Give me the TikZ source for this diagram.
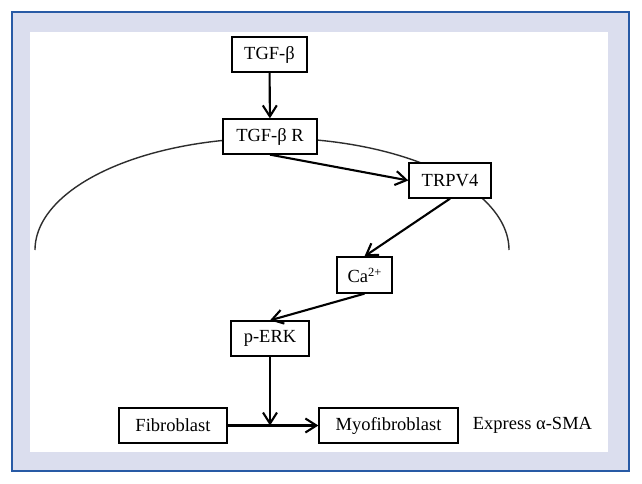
\documentclass[tikz,border=0pt]{standalone}
\usepackage{fontspec}
\setmainfont{Liberation Serif}
\usetikzlibrary{arrows.meta}
\definecolor{frameblue}{RGB}{40,90,165}
\definecolor{lav}{RGB}{219,222,238}
\definecolor{membr}{RGB}{45,45,45}
\begin{document}
\begin{tikzpicture}[x=1pt,y=-1pt,
  box/.style={draw=black,line width=1.3pt,fill=white,inner sep=0pt,
    minimum height=35pt,font=\fontsize{18.5}{20}\selectfont},
  lbl/.style={inner sep=0pt,font=\fontsize{18.5}{20}\selectfont},
  arr/.style={line width=2.1pt,-{Straight Barb[length=11pt,width=14pt,line width=2.1pt]}},
  membrane/.style={draw=membr,line width=1.4pt}]
\useasboundingbox (0,0) rectangle (642,484);
\fill[white] (0,0) rectangle (642,484);
\draw[frameblue,fill=lav,line width=1.8pt] (12,12) rectangle (629,471);
\fill[white] (30,32) rectangle (608,452);
% cell membrane
\draw[membrane] plot[domain=0:180,samples=150] ({272+237*cos(\x)},{250-112*sin(\x)});
% nodes
\node[box,minimum width=75pt] (tgf) at (269.5,54.5) {TGF-β};
\node[box,minimum width=94pt] (tgfr) at (270,136.5) {TGF-β R};
\node[box,minimum width=82pt] (trpv) at (450,180.5) {TRPV4};
\node[box,minimum width=55pt,minimum height=36pt] (ca) at (364.5,275) {Ca\raisebox{6pt}{\fontsize{12.5}{13}\selectfont 2+}};
\node[box,minimum width=78pt] (erk) at (270,338.5) {p-ERK};
\node[box,minimum width=108pt] (fib) at (173,425.5) {Fibroblast};
\node[box,minimum width=139pt] (myo) at (388.5,425.5) {Myofibroblast};
\node[lbl] (sma) at (532.5,425.5) {Express α-SMA};
\coordinate (j) at (erk.south |- fib.east);
% connectors
\draw[arr] (tgf) -- (tgfr);
\draw[arr] (tgfr.south) -- (trpv.west);
\draw[arr] (trpv.south) -- (ca.north);
\draw[arr] (ca.south) -- (erk.north);
\draw[arr] (fib.east) -- (myo.west);
\draw[arr] (erk.south) -- (j);
\end{tikzpicture}
\end{document}
